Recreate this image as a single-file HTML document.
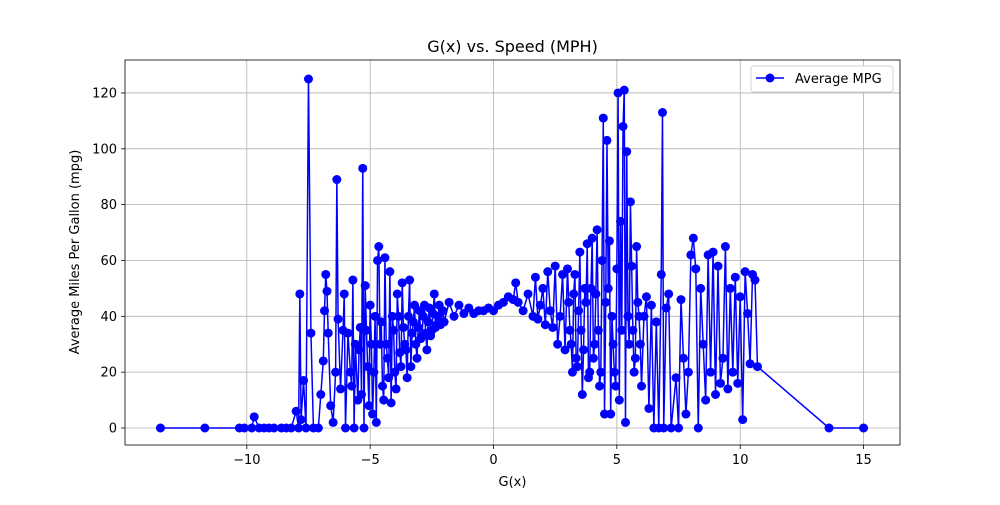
<!DOCTYPE html>
<html><head><meta charset="utf-8"><style>
body{margin:0;background:#fff}
text{font-family:"DejaVu Sans","Liberation Sans",sans-serif}
</style></head><body>
<svg id="chart" width="1000" height="500" xmlns="http://www.w3.org/2000/svg"></svg>
<script>
const xs=[-13.5,-11.7,-10.3,-10.1,-9.8,-9.7,-9.5,-9.3,-9.1,-8.9,-8.6,-8.4,-8.2,-8.0,-7.9,-7.85,-7.8,-7.7,-7.6,-7.5,-7.4,-7.3,-7.1,-7.0,-6.9,-6.85,-6.8,-6.75,-6.7,-6.6,-6.5,-6.4,-6.35,-6.3,-6.2,-6.1,-6.05,-6.0,-5.9,-5.8,-5.7,-5.65,-5.6,-5.5,-5.4,-5.3,-5.25,-5.2,-5.1,-5.0,-4.9,-4.8,-4.75,-4.7,-4.65,-4.6,-4.5,-4.4,-4.3,-4.2,-4.15,-4.1,-4.0,-3.9,-3.8,-3.7,-3.6,-3.5,-3.4,-3.3,-3.2,-3.1,-3.0,-2.9,-2.8,-2.7,-2.6,-2.5,-2.4,-2.3,-2.2,-2.0,-1.8,-1.6,-1.4,-1.2,-1.0,-0.8,-0.6,-0.4,-0.2,0,0.2,0.4,0.6,0.8,0.9,1.0,1.2,1.4,1.6,1.7,1.8,2.0,2.1,2.2,2.4,2.5,2.6,2.8,2.9,3.0,3.1,3.2,3.3,3.4,3.5,3.6,3.7,3.8,3.9,4.0,4.1,4.2,4.3,4.4,4.45,4.5,4.6,4.65,4.7,4.75,4.8,4.9,5.0,5.05,5.1,5.15,5.2,5.25,5.3,5.35,5.4,5.5,5.55,5.6,5.7,5.8,5.9,6.0,6.2,6.3,6.4,6.5,6.6,6.7,6.8,6.85,6.9,7.0,7.1,7.2,7.4,7.5,7.6,7.7,7.8,7.9,8.0,8.1,8.2,8.3,8.4,8.5,8.6,8.7,8.8,8.9,9.0,9.1,9.2,9.3,9.4,9.5,9.6,9.7,9.8,9.9,10.0,10.1,10.2,10.3,10.4,10.5,10.6,10.7,13.6,15];
const ys=[0,0,0,0,0,4,0,0,0,0,0,0,0,6,0,48,3,17,0,125,34,0,0,12,24,42,55,49,34,8,2,20,89,39,14,35,48,0,34,20,53,0,30,10,36,93,0,51,22,44,5,40,2,60,65,30,15,61,25,56,9,40,20,48,27,52,30,18,53,34,44,25,42,33,44,28,43,35,48,37,44,38,45,40,44,41,43,41,42,42,43,42,44,45,47,46,52,45,42,48,40,54,39,50,37,56,36,58,30,55,28,57,35,20,55,22,63,12,50,66,20,68,30,71,15,60,111,5,103,50,67,5,40,20,57,120,10,74,35,108,121,2,99,30,81,58,20,65,40,15,47,7,44,0,38,0,55,113,0,43,48,0,18,0,46,25,5,20,62,68,57,0,50,30,10,62,20,63,12,58,16,25,65,14,50,20,54,16,47,3,56,41,23,55,53,22,0,0];
const xs2=[-5.75,-5.45,-5.35,-5.15,-5.05,-4.95,-4.85,-4.55,-4.45,-4.35,-4.25,-4.05,-3.95,-3.85,-3.75,-3.65,-3.55,-3.45,-3.35,-3.25,-3.15,-3.05,-2.95,-2.85,-2.75,-2.65,-2.55,-2.45,-2.35,-2.25,-2.15,-2.05,1.9,2.3,2.7,3.05,3.15,3.25,3.35,3.45,3.55,3.65,3.75,3.85,3.95,4.05,4.15,4.25,4.35,4.55,4.85,4.95,5.45,5.65,5.75,5.85,5.95,6.1];
const ys2=[15,28,12,35,8,30,20,38,10,30,18,35,14,40,22,36,28,40,22,38,30,36,32,40,34,38,33,41,36,40,37,42,44,42,40,45,30,48,25,42,35,28,45,18,50,25,48,35,20,45,30,15,40,35,25,45,30,40];
const xTicks=[-10,-5,0,5,10,15];
const xTickLabels=["\u221210","\u22125","0","5","10","15"];
const yTicks=[0,20,40,60,80,100,120];
const L=125,R=900,T=60,B=445;
const X=v=>493.5+v*24.67;
const Y=v=>428-v*2.792;
const svg=document.getElementById('chart');
const NS='http://www.w3.org/2000/svg';
function mk(tag,attrs,parent){const e=document.createElementNS(NS,tag);for(const k in attrs)e.setAttribute(k,attrs[k]);(parent||svg).appendChild(e);return e;}
xTicks.forEach((t,i)=>{
  const g=mk('line',{x1:X(t),x2:X(t),y1:T,y2:B,stroke:'#b0b0b0','stroke-width':0.8});
  
  
  mk('line',{x1:X(t),x2:X(t),y1:B,y2:B+4,stroke:'#000','stroke-width':0.8});
  const tx=mk('text',{x:X(t),y:B+19,'text-anchor':'middle','font-size':13});
  tx.textContent=xTickLabels[i];
  
  
});
yTicks.forEach(t=>{
  const g=mk('line',{x1:L,x2:R,y1:Y(t),y2:Y(t),stroke:'#b0b0b0','stroke-width':0.8});
  
  
  mk('line',{x1:L-4,x2:L,y1:Y(t),y2:Y(t),stroke:'#000','stroke-width':0.8});
  const tx=mk('text',{x:L-8,y:Y(t)+4.5,'text-anchor':'end','font-size':13});
  tx.textContent=t;
  
  
});
const all=xs.map((x,i)=>[x,ys[i]]).concat(xs2.map((x,i)=>[x,ys2[i]])).sort((a,b)=>a[0]-b[0]);
const pts=all.map(p=>X(p[0])+','+Y(p[1])).join(' ');
const line=mk('polyline',{points:pts,fill:'none',stroke:'#0000ff','stroke-width':1.5});


all.forEach(p=>{
  const c=mk('circle',{cx:X(p[0]),cy:Y(p[1]),r:4.5,fill:'#0000ff'});
  
  
});
const frame=mk('rect',{x:L,y:T,width:R-L,height:B-T,fill:'none',stroke:'#000','stroke-width':0.8});


const title=mk('text',{x:(L+R)/2,y:52,'text-anchor':'middle','font-size':16});
title.textContent='G(x) vs. Speed (MPH)';


const xl=mk('text',{x:(L+R)/2,y:486,'text-anchor':'middle','font-size':13});
xl.textContent='G(x)';


const yl=mk('text',{x:0,y:0,'text-anchor':'middle','font-size':13,transform:'translate(79,252) rotate(-90)'});
yl.textContent='Average Miles Per Gallon (mpg)';


const lg=mk('g',{});


mk('rect',{x:751,y:66,width:142,height:26,rx:3,fill:'#fff',stroke:'#d0d0d0','stroke-width':1},lg);
mk('line',{x1:756,x2:784,y1:78,y2:78,stroke:'#0000ff','stroke-width':1.5},lg);
mk('circle',{cx:770,cy:78,r:4.5,fill:'#0000ff'},lg);
const lt=mk('text',{x:795,y:83,'font-size':13},lg);
lt.textContent='Average MPG';


</script>
</body></html>
